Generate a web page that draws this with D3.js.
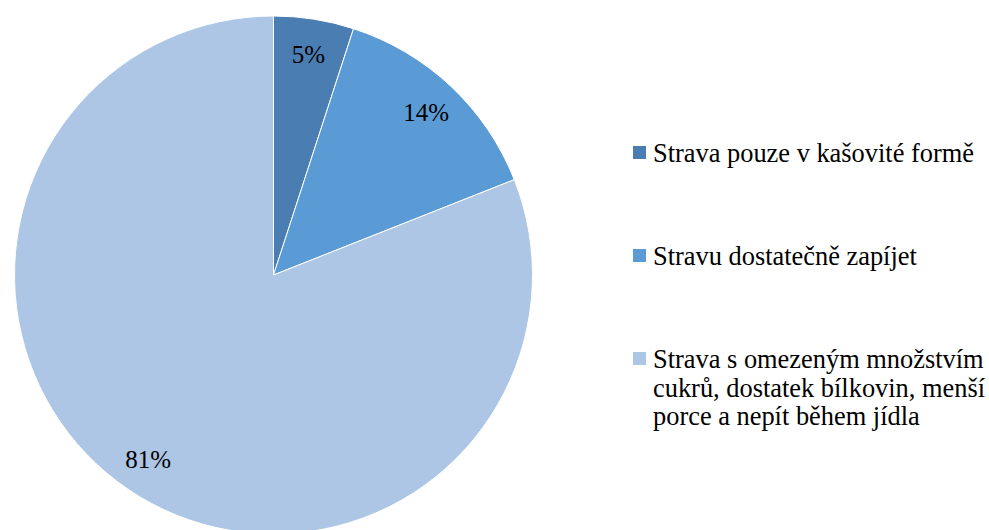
<!DOCTYPE html>
<html>
<head>
<meta charset="utf-8">
<script src="https://cdn.jsdelivr.net/npm/d3@7"></script>
<style>
  html, body { margin: 0; padding: 0; background: #fff; }
  svg { display: block; }
</style>
</head>
<body>
<svg id="chart" width="989" height="530"></svg>
<script>
// Diet recommendations – share of answers
const categories = [
  "Strava pouze v kašovité formě",
  "Stravu dostatečně zapíjet",
  "Strava s omezeným množstvím cukrů, dostatek bílkovin, menší porce a nepít během jídla"
];
const legendLines = [
  ["Strava pouze v kašovité formě"],
  ["Stravu dostatečně zapíjet"],
  ["Strava s omezeným množstvím", "cukrů, dostatek bílkovin, menší", "porce a nepít během jídla"]
];
const values = [5, 14, 81];
const colors = ["#4a7db1", "#5b9bd5", "#adc6e6"];

const FONT = "'Liberation Serif', 'DejaVu Serif', serif";

const svg = d3.select("#chart");
const cx = 273.5, cy = 275, radius = 259;

const pie = d3.pie().sort(null).value(d => d);
const arc = d3.arc().innerRadius(0).outerRadius(radius);
const labelArc = d3.arc().innerRadius(223).outerRadius(223);

const g = svg.append("g").attr("transform", `translate(${cx},${cy})`);
const arcs = pie(values);

g.selectAll("path.slice")
  .data(arcs)
  .join("path")
  .attr("class", "slice")
  .attr("d", arc)
  .attr("fill", (d, i) => colors[i])
  .attr("stroke", "#fff")
  .attr("stroke-width", 1);

g.selectAll("text.pct")
  .data(arcs)
  .join("text")
  .attr("class", "pct")
  .attr("transform", d => `translate(${labelArc.centroid(d)})`)
  .attr("text-anchor", "middle")
  .attr("dy", "0.35em")
  .attr("font-family", FONT)
  .attr("font-size", 25)
  .attr("fill", "#000")
  .text(d => d.data + "%");

// Legend
const legendY = [162, 265, 368];
const lineH = 28.5;
const legend = svg.append("g");
legendLines.forEach((lines, i) => {
  legend.append("rect")
    .attr("x", 633).attr("y", legendY[i] - 16)
    .attr("width", 13).attr("height", 13)
    .attr("fill", colors[i]);
  const t = legend.append("text")
    .attr("x", 653).attr("y", legendY[i])
    .attr("font-family", FONT)
    .attr("font-size", 26.4)
    .attr("fill", "#000");
  lines.forEach((ln, j) => {
    t.append("tspan").attr("x", 653).attr("y", legendY[i] + j * lineH).text(ln);
  });
});
</script>
</body>
</html>
